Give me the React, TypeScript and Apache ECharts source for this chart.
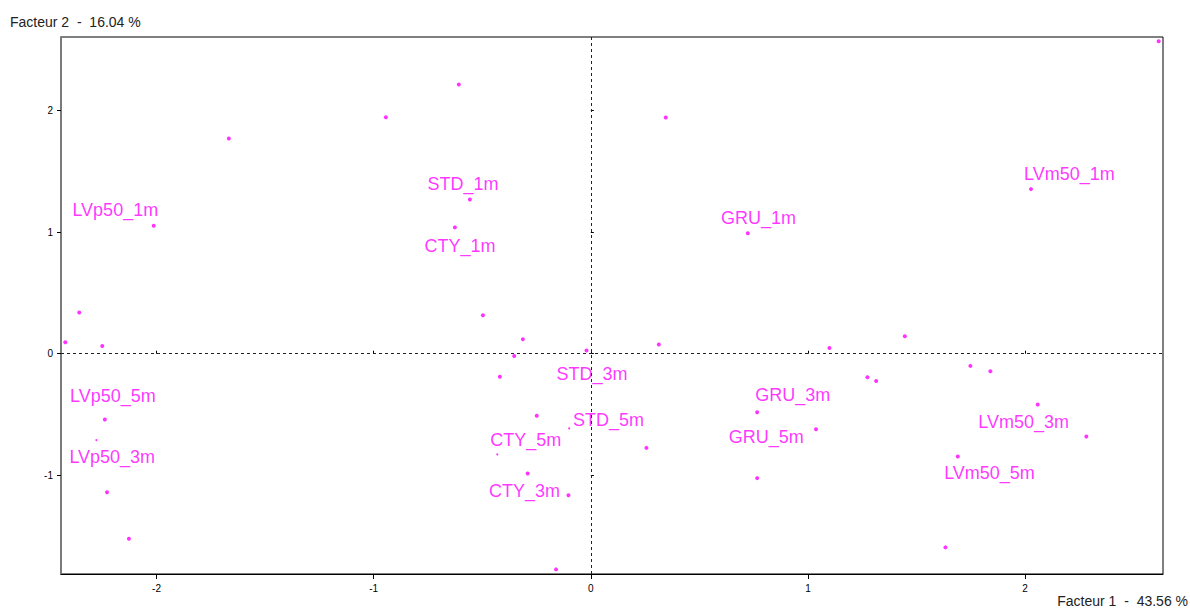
import React, { useEffect, useRef } from "react";
import * as echarts from "echarts";

// Factor scores of the individuals (Facteur 1, Facteur 2)
const pointX = [2.615, -0.608, 0.345, -0.944, -1.667, -2.013, -2.356, -2.42, -2.25, -2.238, -2.228, -2.127,
  -0.557, -0.626, -0.497, -0.313, -0.353, -0.02, 0.313, -0.419, -0.249, 0.256, -0.291, -0.103, -0.16,
  2.027, 0.723, 1.099, 1.446, 1.274, 1.314, 1.748, 1.84, 2.058, 2.282, 0.766, 1.037, 0.766, 1.69, 1.633];
const pointY = [2.572, 2.216, 1.945, 1.947, 1.772, 1.054, 0.339, 0.095, 0.064, -0.541, -1.141, -1.523,
  1.27, 1.04, 0.317, 0.119, -0.018, 0.026, 0.076, -0.19, -0.511, -0.775, -0.985, -1.164, -1.775,
  1.355, 0.991, 0.048, 0.144, -0.193, -0.224, -0.1, -0.144, -0.418, -0.681, -0.481, -0.621, -1.024, -0.846, -1.594];
// points partly hidden behind labels
const hiddenX = [-2.277, -0.1, -0.431];
const hiddenY = [-0.711, -0.615, -0.829];

// Class centres (labels)
const labelNames = ["LVp50_1m", "STD_1m", "CTY_1m", "GRU_1m", "LVm50_1m", "LVp50_5m", "LVp50_3m", "STD_3m",
  "STD_5m", "CTY_5m", "CTY_3m", "GRU_3m", "GRU_5m", "LVm50_3m", "LVm50_5m"];
const labelX = [-2.19, -0.589, -0.603, 0.772, 2.204, -2.201, -2.204, 0.005, 0.081, -0.3, -0.306, 0.93, 0.808, 1.993, 1.836];
const labelY = [1.18, 1.393, 0.884, 1.12, 1.482, -0.347, -0.849, -0.169, -0.547, -0.711, -1.128, -0.336, -0.684, -0.563, -0.985];

const xTicks = [-2, -1, 0, 1, 2];
const yTicks = [-1, 0, 1, 2];
const xRange = [-2.44, 2.635];
const yRange = [-1.813, 2.607];
const xTitle = "Facteur 1  -  43.56 %";
const yTitle = "Facteur 2  -  16.04 %";

const MAGENTA = "#ff00ff";
const FONT = "'Liberation Sans', Arial, sans-serif";

export default function App() {
  const ref = useRef<HTMLDivElement>(null);
  useEffect(() => {
    if (!ref.current) return;
    const chart = echarts.init(ref.current, undefined, { renderer: "svg" });
    const baseX = {
      type: "value" as const,
      min: xRange[0],
      max: xRange[1],
      splitLine: { show: false },
    };
    const baseY = {
      type: "value" as const,
      min: yRange[0],
      max: yRange[1],
      splitLine: { show: false },
    };
    chart.setOption({
      animation: false,
      backgroundColor: "#ffffff",
      grid: {
        left: 61,
        top: 37,
        right: 27,
        bottom: 34,
        show: true,
        borderColor: "#000",
        borderWidth: 1,
        backgroundColor: "transparent",
      },
      xAxis: [
        {
          ...baseX,
          position: "bottom",
          axisLine: { show: true, onZero: false, lineStyle: { color: "#000", width: 1 } },
          axisTick: { show: true, inside: false, length: 5, customValues: xTicks, lineStyle: { color: "#000" } },
          axisLabel: {
            show: true,
            customValues: xTicks,
            margin: 9,
            fontSize: 10,
            color: "#000",
            fontFamily: FONT,
          },
        },
        {
          ...baseX,
          position: "bottom",
          axisLine: { show: false },
          axisTick: { show: true, inside: true, length: 3, customValues: xTicks, lineStyle: { color: "#000" } },
          axisLabel: { show: false },
        },
      ],
      yAxis: [
        {
          ...baseY,
          position: "left",
          axisLine: { show: true, onZero: false, lineStyle: { color: "#7a7a7a", width: 2 } },
          axisTick: { show: true, inside: false, length: 4, customValues: yTicks, lineStyle: { color: "#000" } },
          axisLabel: {
            show: true,
            customValues: yTicks,
            margin: 8,
            fontSize: 10,
            color: "#000",
            fontFamily: FONT,
          },
        },
        {
          ...baseY,
          position: "left",
          axisLine: { show: false },
          axisTick: { show: true, inside: true, length: 3, customValues: yTicks, lineStyle: { color: "#000" } },
          axisLabel: { show: false },
        },
      ],
      series: [
        {
          type: "scatter",
          xAxisIndex: 0,
          yAxisIndex: 0,
          symbol: "circle",
          symbolSize: 4,
          itemStyle: { color: MAGENTA },
          data: pointX.map((x, i) => [x, pointY[i]]),
          markLine: {
            silent: true,
            symbol: ["none", "none"],
            label: { show: false },
            lineStyle: { color: "#222", type: [3, 3], width: 1 },
            data: [{ xAxis: 0 }, { yAxis: 0 }],
          },
          z: 2,
        },
        {
          type: "scatter",
          xAxisIndex: 0,
          yAxisIndex: 0,
          symbol: "circle",
          symbolSize: 2,
          itemStyle: { color: MAGENTA },
          data: hiddenX.map((x, i) => [x, hiddenY[i]]),
          z: 2,
        },
        {
          type: "scatter",
          xAxisIndex: 0,
          yAxisIndex: 0,
          symbolSize: 0,
          itemStyle: { color: "transparent" },
          label: {
            show: true,
            position: "inside",
            formatter: (p: any) => p.name,
            color: MAGENTA,
            fontSize: 18,
            fontFamily: FONT,
          },
          data: labelNames.map((n, i) => ({ name: n, value: [labelX[i], labelY[i]] })),
          z: 3,
        },
      ],
      graphic: [
        {
          type: "text",
          left: 10,
          top: 15,
          style: { text: yTitle, fill: "#222", font: `14px ${FONT}` },
        },
        {
          type: "text",
          right: 2,
          top: 594,
          style: { text: xTitle, fill: "#222", font: `14px ${FONT}` },
        },
      ],
    });
    return () => chart.dispose();
  }, []);
  return (
    <div
      ref={ref}
      style={{ position: "fixed", left: 0, top: 0, width: 1190, height: 608, background: "#fff" }}
    />
  );
}
